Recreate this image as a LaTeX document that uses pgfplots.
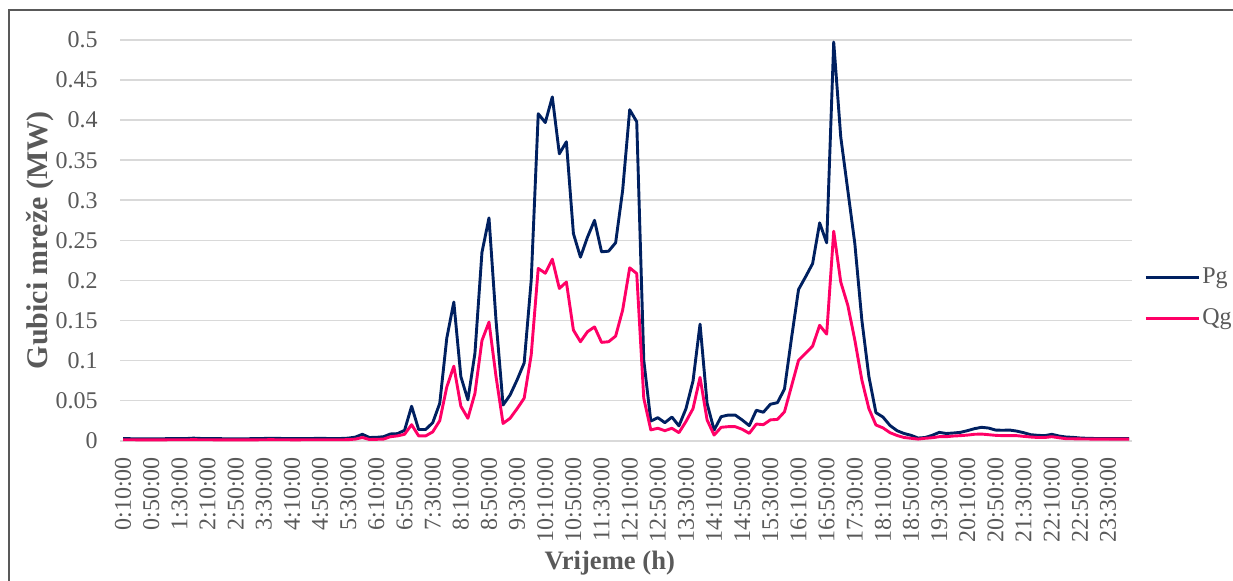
\documentclass[border=0pt]{standalone}
\usepackage{fontspec}
\setmainfont{Liberation Serif}
\usepackage{pgfplots}
\usepackage{pgfplotstable}
\pgfplotsset{compat=1.18}
\definecolor{pgc}{RGB}{0,32,96}
\definecolor{qgc}{RGB}{255,0,102}
\definecolor{gridc}{RGB}{217,217,217}
\definecolor{txtc}{RGB}{89,89,89}
\pgfplotstableread{
i Pg Qg
0 0.0025 0.0012
1 0.0025 0.0012
2 0.0024 0.0011
3 0.0022 0.0010
4 0.0023 0.0010
5 0.0024 0.0011
6 0.0025 0.0011
7 0.0026 0.0012
8 0.0026 0.0012
9 0.0027 0.0012
10 0.0032 0.0013
11 0.0028 0.0012
12 0.0027 0.0012
13 0.0026 0.0011
14 0.0025 0.0011
15 0.0024 0.0011
16 0.0023 0.0010
17 0.0024 0.0010
18 0.0025 0.0011
19 0.0026 0.0011
20 0.0028 0.0012
21 0.0031 0.0013
22 0.0029 0.0012
23 0.0027 0.0012
24 0.0026 0.0011
25 0.0026 0.0011
26 0.0027 0.0012
27 0.0028 0.0012
28 0.0029 0.0012
29 0.0028 0.0012
30 0.0027 0.0012
31 0.0028 0.0012
32 0.0032 0.0013
33 0.0045 0.0020
34 0.0080 0.0040
35 0.0040 0.0015
36 0.0042 0.0017
37 0.0050 0.0020
38 0.0084 0.0050
39 0.0088 0.0060
40 0.0130 0.0080
41 0.0430 0.0200
42 0.0140 0.0060
43 0.0140 0.0060
44 0.0225 0.0110
45 0.0466 0.0250
46 0.1280 0.0670
47 0.1730 0.0930
48 0.0800 0.0430
49 0.0510 0.0280
50 0.1090 0.0590
51 0.2350 0.1250
52 0.2780 0.1480
53 0.1500 0.0800
54 0.0445 0.0215
55 0.0570 0.0280
56 0.0760 0.0400
57 0.0970 0.0530
58 0.2000 0.1070
59 0.4080 0.2150
60 0.3970 0.2090
61 0.4290 0.2265
62 0.3580 0.1900
63 0.3730 0.1980
64 0.2585 0.1380
65 0.2290 0.1235
66 0.2540 0.1360
67 0.2750 0.1420
68 0.2357 0.1227
69 0.2365 0.1235
70 0.2470 0.1305
71 0.3125 0.1630
72 0.4130 0.2157
73 0.3980 0.2086
74 0.1006 0.0530
75 0.0245 0.0135
76 0.0287 0.0155
77 0.0225 0.0125
78 0.0295 0.0155
79 0.0185 0.0100
80 0.0400 0.0240
81 0.0745 0.0400
82 0.1455 0.0790
83 0.0466 0.0260
84 0.0133 0.0070
85 0.0300 0.0167
86 0.0320 0.0175
87 0.0320 0.0175
88 0.0258 0.0142
89 0.0188 0.0092
90 0.0380 0.0208
91 0.0355 0.0200
92 0.0455 0.0260
93 0.0475 0.0266
94 0.0645 0.0360
95 0.1280 0.0680
96 0.1887 0.1003
97 0.2045 0.1090
98 0.2210 0.1180
99 0.2718 0.1440
100 0.2469 0.1330
101 0.4975 0.2614
102 0.3790 0.1980
103 0.3126 0.1690
104 0.2460 0.1256
105 0.1505 0.0757
106 0.0800 0.0400
107 0.0350 0.0196
108 0.0295 0.0160
109 0.0190 0.0100
110 0.0125 0.0065
111 0.0090 0.0040
112 0.0067 0.0030
113 0.0033 0.0020
114 0.0040 0.0030
115 0.0067 0.0037
116 0.0104 0.0050
117 0.0090 0.0050
118 0.0096 0.0058
119 0.0104 0.0063
120 0.0125 0.0070
121 0.0150 0.0080
122 0.0167 0.0083
123 0.0158 0.0075
124 0.0133 0.0067
125 0.0130 0.0063
126 0.0133 0.0063
127 0.0120 0.0063
128 0.0100 0.0054
129 0.0075 0.0046
130 0.0067 0.0040
131 0.0063 0.0040
132 0.0080 0.0050
133 0.0059 0.0037
134 0.0046 0.0025
135 0.0042 0.0024
136 0.0034 0.0022
137 0.0030 0.0021
138 0.0028 0.0020
139 0.0027 0.0020
140 0.0027 0.0020
141 0.0026 0.0020
142 0.0026 0.0020
143 0.0026 0.0020
}\losses

\begin{document}
\begin{tikzpicture}
\path[use as bounding box] (-60bp,-70.15bp) rectangle (556.5bp,220.35bp);
\draw[txtc, line width=0.9bp] (-55.5bp,-80bp) -- (-55.5bp,215.35bp) -- (570bp,215.35bp);
\begin{axis}[
  at={(0,0)}, anchor=south west,
  scale only axis, width=506bp, height=200.35bp,
  xmin=-0.45, xmax=143.4, ymin=0, ymax=0.5,
  clip=false,
  xtick={0,4,...,140},
  xticklabels={0:10:00,0:50:00,1:30:00,2:10:00,2:50:00,3:30:00,4:10:00,4:50:00,5:30:00,6:10:00,6:50:00,7:30:00,8:10:00,8:50:00,9:30:00,10:10:00,10:50:00,11:30:00,12:10:00,12:50:00,13:30:00,14:10:00,14:50:00,15:30:00,16:10:00,16:50:00,17:30:00,18:10:00,18:50:00,19:30:00,20:10:00,20:50:00,21:30:00,22:10:00,22:50:00,23:30:00},
  ytick={0,0.05,0.1,0.15,0.2,0.25,0.3,0.35,0.4,0.45,0.5},
  yticklabels={0,0.05,0.1,0.15,0.2,0.25,0.3,0.35,0.4,0.45,0.5},
  ymajorgrids,
  grid style={gridc, line width=0.8bp},
  axis line style={draw=none},
  major tick length=0pt,
  tick style={draw=none},
  xticklabel style={rotate=90, anchor=east, inner sep=0pt, font=\fontsize{12bp}{14bp}\selectfont, text=txtc},
  yticklabel style={anchor=east, inner sep=0pt, font=\fontsize{12bp}{14bp}\selectfont, text=txtc},
  xticklabel shift=8bp, yticklabel shift=11bp,
  xlabel={Vrijeme (h)}, ylabel={Gubici mreže (MW)},
  xlabel style={at={(axis description cs:0.484,-0.305)}, anchor=center, font=\bfseries\fontsize{13.3bp}{16bp}\selectfont, text=txtc},
  ylabel style={at={(axis description cs:-0.079,0.5)}, anchor=center, font=\bfseries\fontsize{15bp}{18bp}\selectfont, text=txtc},
  legend style={at={(axis description cs:1,0.356)}, anchor=west, xshift=6bp, draw=none, fill=none, inner sep=0pt,
    font=\fontsize{12bp}{14bp}\selectfont, text=txtc, row sep=9bp,
    nodes={inner sep=1bp}},
  legend cell align=left,
  legend image code/.code={\draw[#1] (0bp,0bp) -- (26.5bp,0bp);},
]
\addplot[pgc, line width=1.45bp, line join=round, no markers] table[x=i, y=Pg] {\losses};
\addlegendentry{Pg}
\addplot[qgc, line width=1.45bp, line join=round, no markers] table[x=i, y=Qg] {\losses};
\addlegendentry{Qg}
\end{axis}
\end{tikzpicture}
\end{document}
